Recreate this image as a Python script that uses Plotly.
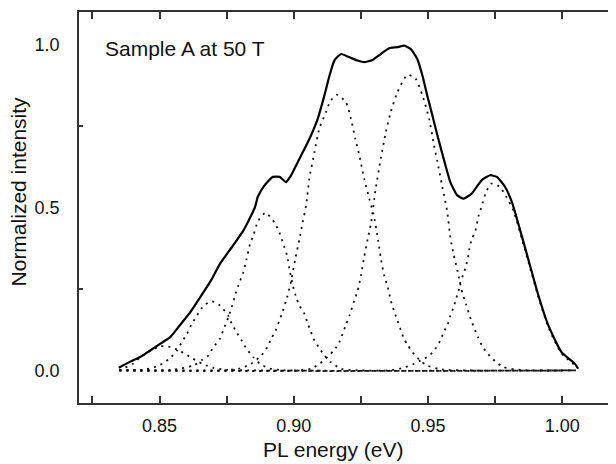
import plotly.graph_objects as go

# ---- data ----
x_ticks = [0.85, 0.90, 0.95, 1.00]
x_tick_labels = ["0.85", "0.90", "0.95", "1.00"]
x_minor = [0.825, 0.875, 0.925, 0.975]
y_ticks = [0.0, 0.5, 1.0]
y_tick_labels = ["0.0", "0.5", "1.0"]
y_minor = [0.25, 0.75]

# measured spectrum (solid)
spec_x = [0.8348, 0.8391, 0.8428, 0.8465, 0.8503, 0.854, 0.8577, 0.8614, 0.8651, 0.8695,
          0.8725, 0.8769, 0.8812, 0.8855, 0.8866, 0.8891, 0.8922, 0.8947, 0.8971, 0.899,
          0.9015, 0.904, 0.9064, 0.9089, 0.9114, 0.9133, 0.9151, 0.9176, 0.9207, 0.9238,
          0.9262, 0.9293, 0.9324, 0.9355, 0.9386, 0.9411, 0.9435, 0.946, 0.9479, 0.9497,
          0.9516, 0.9535, 0.9558, 0.9583, 0.9608, 0.9632, 0.9663, 0.970, 0.9731, 0.9756,
          0.9787, 0.9812, 0.9849, 0.988, 0.9911, 0.9948, 0.9997, 1.0047, 1.0059]
spec_y = [0.008, 0.027, 0.041, 0.061, 0.082, 0.102, 0.140, 0.178, 0.224, 0.281,
          0.327, 0.378, 0.429, 0.500, 0.533, 0.568, 0.594, 0.594, 0.578, 0.599,
          0.640, 0.680, 0.721, 0.772, 0.844, 0.905, 0.951, 0.971, 0.961, 0.951,
          0.946, 0.953, 0.971, 0.989, 0.992, 0.997, 0.987, 0.956, 0.905, 0.844,
          0.783, 0.721, 0.650, 0.578, 0.538, 0.527, 0.543, 0.584, 0.599, 0.594,
          0.563, 0.517, 0.413, 0.321, 0.230, 0.138, 0.056, 0.020, 0.005]

# fitted components (dotted)
c1_x = [0.835, 0.837, 0.840, 0.8428, 0.8465, 0.8503, 0.854, 0.858, 0.862, 0.866, 0.870, 0.875, 1.005]
c1_y = [0.0, 0.008, 0.020, 0.040, 0.060, 0.074, 0.072, 0.058, 0.038, 0.020, 0.008, 0.002, 0.0]

c2_x = [0.835, 0.845, 0.8503, 0.8537, 0.8565, 0.8583, 0.8602, 0.862, 0.8639, 0.8665, 0.8695,
        0.8725, 0.8756, 0.8769, 0.8787, 0.8806, 0.8824, 0.8849, 0.8874, 0.891, 0.895, 1.005]
c2_y = [0.0, 0.003, 0.017, 0.036, 0.061, 0.087, 0.112, 0.143, 0.168, 0.199, 0.212,
        0.199, 0.168, 0.143, 0.117, 0.092, 0.066, 0.041, 0.020, 0.006, 0.001, 0.0]

c3_x = [0.835, 0.855, 0.8626, 0.8657, 0.8682, 0.870, 0.8725, 0.8738, 0.8756, 0.8769, 0.8781,
        0.8793, 0.8812, 0.8824, 0.8837, 0.8849, 0.8867, 0.8895, 0.8928, 0.8944, 0.8955,
        0.8965, 0.8975, 0.8986, 0.8996, 0.9009, 0.9021, 0.904, 0.905, 0.9062, 0.9074,
        0.9093, 0.9114, 0.9138, 0.9176, 0.925, 1.005]
c3_y = [0.0, 0.002, 0.015, 0.031, 0.046, 0.071, 0.097, 0.125, 0.163, 0.195, 0.230,
        0.260, 0.301, 0.342, 0.388, 0.413, 0.459, 0.484, 0.454, 0.428, 0.403,
        0.378, 0.352, 0.301, 0.262, 0.224, 0.199, 0.173, 0.148, 0.122, 0.097,
        0.071, 0.046, 0.025, 0.005, 0.0, 0.0]

c4_x = [0.835, 0.875, 0.880, 0.884, 0.8879, 0.8901, 0.8916, 0.8932, 0.8955, 0.8975, 0.899,
        0.9005, 0.9021, 0.9033, 0.9046, 0.9058, 0.9077, 0.9095, 0.912, 0.9135, 0.916,
        0.9194, 0.9213, 0.9229, 0.9244, 0.9262, 0.9281, 0.9297, 0.9314, 0.9324, 0.9337,
        0.935, 0.9361, 0.9374, 0.9386, 0.9396, 0.9408, 0.9423, 0.9442, 0.947, 0.9497,
        0.955, 1.005]
c4_y = [0.0, 0.001, 0.006, 0.020, 0.046, 0.071, 0.097, 0.122, 0.173, 0.224, 0.275,
        0.340, 0.403, 0.454, 0.507, 0.589, 0.670, 0.742, 0.793, 0.825, 0.846,
        0.823, 0.772, 0.711, 0.660, 0.589, 0.527, 0.480, 0.400, 0.345, 0.290,
        0.255, 0.215, 0.181, 0.153, 0.130, 0.102, 0.079, 0.056, 0.031, 0.015,
        0.003, 0.0]

c5_x = [0.835, 0.900, 0.9064, 0.9095, 0.9126, 0.9151, 0.917, 0.9194, 0.9207, 0.9225, 0.9238,
        0.925, 0.9262, 0.9275, 0.9287, 0.9305, 0.9324, 0.9343, 0.9361, 0.9386, 0.9423,
        0.9454, 0.9479, 0.9504, 0.9522, 0.9535, 0.9552, 0.9571, 0.9583, 0.9595, 0.9611,
        0.9624, 0.9641, 0.9661, 0.9686, 0.970, 0.9723, 0.975, 0.9781, 0.985, 1.005]
c5_y = [0.0, 0.0, 0.005, 0.020, 0.041, 0.063, 0.087, 0.140, 0.168, 0.214, 0.245,
        0.291, 0.347, 0.403, 0.449, 0.558, 0.650, 0.732, 0.793, 0.854, 0.907,
        0.895, 0.844, 0.772, 0.691, 0.640, 0.568, 0.490, 0.408, 0.357, 0.301,
        0.250, 0.204, 0.153, 0.102, 0.077, 0.051, 0.028, 0.010, 0.001, 0.0]

c6_x = [0.835, 0.935, 0.940, 0.9448, 0.9473, 0.9504, 0.9527, 0.9546, 0.9558, 0.9574, 0.9583,
        0.9595, 0.9604, 0.9614, 0.962, 0.9632, 0.9641, 0.9649, 0.9654, 0.9663, 0.9676,
        0.9688, 0.970, 0.9715, 0.9735, 0.9765, 0.979, 0.9818, 0.9849, 0.988, 0.9911,
        0.9948, 0.9997, 1.005]
c6_y = [0.0, 0.0, 0.006, 0.020, 0.031, 0.045, 0.066, 0.092, 0.117, 0.143, 0.168,
        0.194, 0.219, 0.245, 0.270, 0.296, 0.321, 0.347, 0.374, 0.403, 0.428,
        0.474, 0.505, 0.545, 0.573, 0.565, 0.535, 0.490, 0.405, 0.315, 0.225,
        0.133, 0.052, 0.014]

components = [(c1_x, c1_y), (c2_x, c2_y), (c3_x, c3_y), (c4_x, c4_y), (c5_x, c5_y), (c6_x, c6_y)]

FONT = 'Arial, "Liberation Sans", sans-serif'
AX = '#333333'

fig = go.Figure()
for cx, cy in components:
    fig.add_trace(go.Scatter(x=cx, y=cy, mode='lines',
                             line=dict(color='#111111', width=1.8, dash='2px,5px', shape='spline', smoothing=0.6),
                             hoverinfo='skip'))
fig.add_trace(go.Scatter(x=spec_x, y=spec_y, mode='lines', yaxis='y2',
                         line=dict(color='#000000', width=2.2, shape='spline', smoothing=0.5),
                         hoverinfo='skip'))

# the page body adds an 8 px margin, so the figure is sized/offset to compensate
fig.update_layout(
    width=608, height=456,
    margin=dict(l=71, r=0, t=4, b=61),
    plot_bgcolor='white', paper_bgcolor='white',
    showlegend=False,
    font=dict(family=FONT, color='#111111'),
    xaxis=dict(range=[0.82, 1.02], showline=True, linecolor=AX, linewidth=1.5, mirror='allticks',
               ticks='inside', ticklen=7, tickwidth=1.5, tickcolor=AX,
               tickmode='array', tickvals=x_ticks, ticktext=x_tick_labels,
               tickfont=dict(size=18, family=FONT, color='#111111'),
               ticklabelstandoff=6,
               minor=dict(ticks='inside', ticklen=4, tickwidth=1.5, tickcolor=AX, tickvals=x_minor),
               showgrid=False, zeroline=False),
    yaxis=dict(range=[-0.1, 1.1], showline=True, linecolor=AX, linewidth=1.5,
               ticks='', tickmode='array', tickvals=y_ticks, ticktext=y_tick_labels,
               tickfont=dict(size=18, family=FONT, color='#111111'),
               ticklabelstandoff=14,
               minor=dict(ticks='inside', ticklen=4, tickwidth=1.5, tickcolor=AX, tickvals=y_minor),
               showgrid=False, zeroline=False),
    yaxis2=dict(range=[-0.1, 1.1], overlaying='y', side='right', showline=False,
                ticks='inside', ticklen=8, tickwidth=1.5, tickcolor=AX,
                tickmode='array', tickvals=y_ticks, showticklabels=False,
                minor=dict(ticks='inside', ticklen=4, tickwidth=1.5, tickcolor=AX, tickvals=y_minor),
                showgrid=False, zeroline=False),
    annotations=[
        dict(text='Sample A at 50 T', xref='paper', yref='paper', x=0.0441, y=0.906,
             xanchor='left', yanchor='middle', showarrow=False,
             font=dict(size=21, family=FONT, color='#111111')),
        dict(text='PL energy (eV)', xref='paper', yref='paper', x=0.473, y=-0.120,
             xanchor='center', yanchor='middle', showarrow=False,
             font=dict(size=21, family=FONT, color='#111111')),
        dict(text='Normalized intensity', xref='paper', yref='paper', x=-0.1136, y=0.541,
             xanchor='center', yanchor='middle', showarrow=False, textangle=-90,
             font=dict(size=21, family=FONT, color='#111111')),
    ],
)

fig.write_html("out.html")
